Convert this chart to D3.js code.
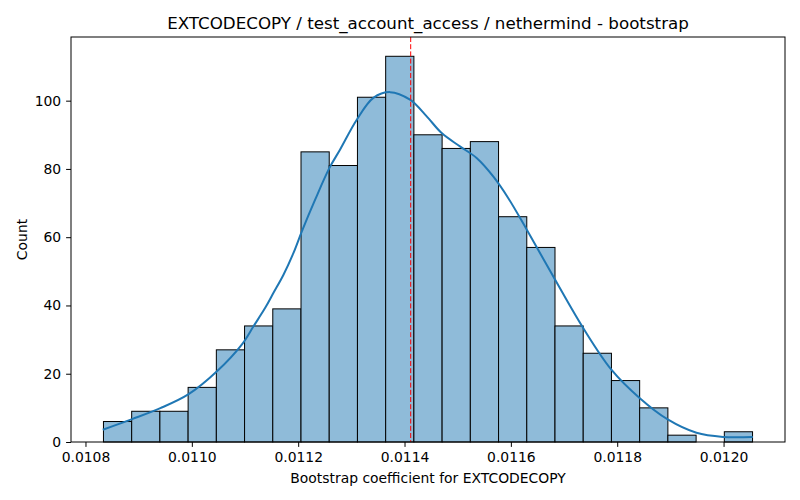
<!DOCTYPE html>
<html>
<head>
<meta charset="utf-8">
<script src="https://cdn.jsdelivr.net/npm/d3@7"></script>
<style>
  body { margin: 0; background: #fff; }
  svg { font-family: "DejaVu Sans", sans-serif; }
</style>
</head>
<body>
<div id="chart"></div>
<script>
// histogram bins (23 equal bins between binStart and binEnd)
var binStart = 0.0108338;
var binEnd = 0.0120545;
var counts = [6, 9, 9, 16, 27, 34, 39, 85, 81, 101, 113, 90, 86, 88, 66, 57, 34, 26, 18, 10, 2, 0, 3];

// kde curve (x value, count scale)
var kdeX = [0.0108325, 0.0108877, 0.0109408, 0.0109940, 0.0110473, 0.0110943, 0.0111160,
            0.0111380, 0.0111536, 0.0111724, 0.0111912, 0.0112069, 0.0112319, 0.0112588,
            0.0112789, 0.0113102, 0.0113414, 0.0113728, 0.0114103, 0.0114417, 0.0114699,
            0.0115042, 0.0115356, 0.0115668, 0.0115949, 0.0116300, 0.0116830, 0.0117360,
            0.0117890, 0.0118420, 0.0118950, 0.0119490, 0.0119990, 0.0120550];
var kdeY = [3.6, 6.7, 9.9, 14.0, 20.7, 28.6, 33.9,
            39.3, 43.7, 49.0, 55.4, 61.7, 71.0, 80.3,
            85.7, 94.4, 100.8, 102.5, 100.3, 95.4, 90.5,
            86.6, 83.2, 77.8, 71.5, 62.2, 47.6, 33.4,
            21.2, 12.9, 6.6, 2.7, 1.5, 1.5];

var meanValue = 0.0114116;

var xTicks = [0.0108, 0.0110, 0.0112, 0.0114, 0.0116, 0.0118, 0.0120];
var yTicks = [0, 20, 40, 60, 80, 100];

var title = "EXTCODECOPY / test_account_access / nethermind - bootstrap";
var xLabel = "Bootstrap coefficient for EXTCODECOPY";
var yLabel = "Count";

var W = 800, H = 500;
var margin = {top: 37, right: 15, bottom: 58, left: 71};
var width = W - margin.left - margin.right;
var height = H - margin.top - margin.bottom;

var svg = d3.select("#chart").append("svg")
    .attr("width", W)
    .attr("height", H);

var g = svg.append("g")
    .attr("transform", "translate(" + margin.left + "," + margin.top + ")");

var span = binEnd - binStart;
var x = d3.scaleLinear()
    .domain([binStart - span * 0.05, binEnd + span * 0.05])
    .range([0, width]);
var y = d3.scaleLinear()
    .domain([0, d3.max(counts) * 1.05])
    .range([height, 0]);

var binW = span / counts.length;
var bins = counts.map(function(c, i) {
  return {x0: binStart + i * binW, x1: binStart + (i + 1) * binW, n: c};
});

g.selectAll("rect.bar")
  .data(bins.filter(function(d) { return d.n > 0; }))
  .enter().append("rect")
    .attr("class", "bar")
    .attr("x", function(d) { return x(d.x0); })
    .attr("y", function(d) { return y(d.n); })
    .attr("width", function(d) { return x(d.x1) - x(d.x0); })
    .attr("height", function(d) { return y(0) - y(d.n); })
    .attr("fill", "#8fbbd9")
    .attr("stroke", "#000")
    .attr("stroke-width", 1);

var line = d3.line()
    .x(function(d, i) { return x(kdeX[i]); })
    .y(function(d) { return y(d); })
    .curve(d3.curveCatmullRom);

g.append("path")
  .attr("fill", "none")
  .attr("stroke", "#1f77b4")
  .attr("stroke-width", 2)
  .attr("d", line(kdeY));

g.append("line")
  .attr("x1", x(meanValue)).attr("x2", x(meanValue))
  .attr("y1", 0).attr("y2", height)
  .attr("stroke", "red")
  .attr("stroke-width", 1)
  .attr("stroke-dasharray", "5,2.2");

// axes
var xAxis = g.append("g")
  .attr("transform", "translate(0," + height + ")")
  .call(d3.axisBottom(x).tickValues(xTicks).tickFormat(d3.format(".4f")).tickSizeOuter(0).tickSize(4.9).tickPadding(4.9));
var yAxis = g.append("g")
  .call(d3.axisLeft(y).tickValues(yTicks).tickSizeOuter(0).tickSize(4.9).tickPadding(4.9));

[xAxis, yAxis].forEach(function(a) {
  a.select(".domain").remove();
  a.selectAll("text").attr("font-size", "13.9px").attr("fill", "#000")
    .attr("font-family", "DejaVu Sans, sans-serif");
  a.selectAll("line").attr("stroke", "#000").attr("stroke-width", 1);
});

g.append("rect")
  .attr("width", width).attr("height", height)
  .attr("fill", "none").attr("stroke", "#000").attr("stroke-width", 1);

svg.append("text")
  .attr("x", margin.left + width / 2).attr("y", 29)
  .attr("text-anchor", "middle")
  .attr("font-size", "16.7px")
  .text(title);

svg.append("text")
  .attr("x", margin.left + width / 2).attr("y", 483)
  .attr("text-anchor", "middle")
  .attr("font-size", "13.9px")
  .text(xLabel);

svg.append("text")
  .attr("transform", "translate(27," + (margin.top + height / 2) + ") rotate(-90)")
  .attr("text-anchor", "middle")
  .attr("font-size", "13.9px")
  .text(yLabel);
</script>
</body>
</html>
